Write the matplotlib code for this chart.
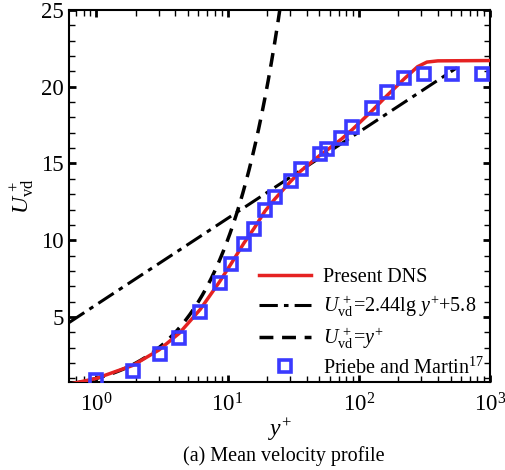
import numpy as np
import matplotlib
matplotlib.use("Agg")
import matplotlib.pyplot as plt
from matplotlib.ticker import MultipleLocator, LogLocator, NullFormatter

plt.rcParams['font.family'] = ['Liberation Serif', 'DejaVu Serif']
plt.rcParams['mathtext.fontset'] = 'custom'
plt.rcParams['mathtext.rm'] = 'Liberation Serif'
plt.rcParams['mathtext.it'] = 'Liberation Serif:italic'

# Priebe and Martin data
pm_y = [1.0, 1.89, 3.06, 4.28, 6.2, 8.73, 10.7, 13.3, 15.9, 19.3, 22.9, 30.4, 36.3,
        50.2, 57.2, 73.6, 88.9, 125, 163, 221, 312, 508, 873]
pm_u = [0.87, 1.48, 2.57, 3.65, 5.33, 7.22, 8.48, 9.74, 10.76, 12.0, 12.83, 13.85, 14.65,
        15.59, 15.96, 16.67, 17.39, 18.63, 19.63, 20.54, 20.8, 20.8, 20.8]

# Present DNS
dns_y = [0.62, 1.0, 1.9, 3.0, 4.3, 6.2, 8.7, 10.7, 13.3, 16, 19.3, 23, 30, 36, 50, 57,
         74, 89, 125, 163, 221, 280, 330, 400, 1000]
dns_u = [0.62, 1.0, 1.85, 2.85, 3.95, 5.5, 7.3, 8.5, 9.8, 10.8, 11.9, 12.7, 13.8, 14.5,
         15.5, 15.85, 16.6, 17.2, 18.4, 19.4, 20.5, 21.3, 21.6, 21.68, 21.7]

# Reference laws
lin_y = np.logspace(np.log10(0.62), np.log10(25), 200)
log_y = np.logspace(np.log10(0.62), np.log10(560), 50)
log_u = 2.44 * np.log(log_y) + 5.8

fig = plt.figure(figsize=(5.05, 4.7), dpi=100)
ax = fig.add_axes([0.1366, 0.187, 0.834, 0.792])

ax.plot(dns_y, dns_u, color='#e52222', lw=2.5, label='Present DNS', zorder=3)
ax.plot(log_y, log_u, color='black', lw=2.2, ls=(0, (6, 2, 1.5, 2)),
        label=r'$U^{\,+}_{\mathrm{vd}}$=2.44lg $y^{+}$+5.8', zorder=2)
ax.plot(lin_y, lin_y, color='black', lw=2.5, ls=(0, (4, 2.5)),
        label=r'$U^{\,+}_{\mathrm{vd}}$=$y^{+}$', zorder=2)
ax.plot(pm_y, pm_u, ls='none', marker='s', ms=8.5, mfc='none', mec='#3a3aff', mew=2.6,
        label=r'Priebe and Martin$^{17}$', zorder=4)

ax.set_xscale('log')
ax.set_xlim(0.62, 1000)
ax.set_ylim(0.76, 25)
ax.set_yticks([5, 10, 15, 20, 25])
ax.yaxis.set_minor_locator(MultipleLocator(1))
ax.xaxis.set_major_locator(LogLocator(base=10, numticks=10))
ax.xaxis.set_minor_locator(LogLocator(base=10, subs=np.arange(2, 10), numticks=20))
ax.xaxis.set_minor_formatter(NullFormatter())
ax.tick_params(which='both', direction='in', top=True, right=True, labelsize=16.5, width=1.2)
ax.tick_params(which='major', length=5, width=2)
ax.tick_params(which='minor', length=4, width=1)
ax.tick_params(axis='x', pad=8)
for s in ax.spines.values():
    s.set_linewidth(1.5)

ax.set_xlabel(r'$y^{+}$', fontsize=17, labelpad=0)
ax.set_ylabel(r'$U^{\,+}_{\mathrm{vd}}$', fontsize=17, labelpad=4)

leg = ax.legend(loc='lower right', bbox_to_anchor=(1.005, -0.012), frameon=False, fontsize=14.5,
                handlelength=2.6, handletextpad=0.6, labelspacing=0.32, borderaxespad=0.0)

fig.text(0.5624, 0.03, '(a) Mean velocity profile', ha='center', va='center', fontsize=14.5)

fig.savefig('out.png', dpi=100)
